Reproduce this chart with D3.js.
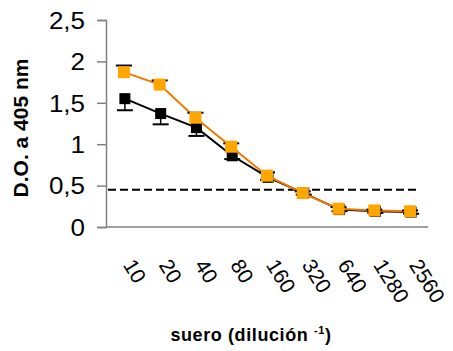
<!DOCTYPE html>
<html>
<head>
<meta charset="utf-8">
<script src="https://cdn.jsdelivr.net/npm/d3@7"></script>
<style>
  body { margin: 0; background: #fff; }
  svg { display: block; font-family: Arial, "Liberation Sans", sans-serif; }
</style>
</head>
<body>
<svg id="chart"></svg>
<script>
const width = 453;
const height = 351;

const diluciones = ["10", "20", "40", "80", "160", "320", "640", "1280", "2560"];
const serieNegra = [1.55, 1.37, 1.20, 0.86, 0.60, 0.41, 0.21, 0.19, 0.18];
const errNegra = [0.14, 0.13, 0.10, 0.04, 0.03, 0.02, 0.02, 0.02, 0.02];
const serieNaranja = [1.87, 1.72, 1.32, 0.97, 0.62, 0.41, 0.22, 0.20, 0.19];
const errNaranja = [0.08, 0.05, 0.06, 0.04, 0.04, 0.02, 0.02, 0.01, 0.01];
const corte = 0.45;
const yTicks = [0, 0.5, 1, 1.5, 2, 2.5];

const svg = d3.select("#chart")
    .attr("width", width)
    .attr("height", height);

const x = d3.scalePoint()
    .domain(diluciones)
    .range([106, 428])
    .padding(0.5);

const y = d3.scaleLinear()
    .domain([0, 2.5])
    .range([227, 20]);

// ejes
const yAxis = svg.append("g")
    .attr("transform", "translate(106,0)")
    .call(d3.axisLeft(y).tickValues(yTicks).tickSize(9)
        .tickFormat(d => String(d).replace(".", ",")));
yAxis.select(".domain").attr("stroke", "#808080").attr("stroke-width", 1.5);
yAxis.selectAll(".tick line").attr("stroke", "#808080").attr("stroke-width", 1.5);
// el original tiene los numeros un poco ensanchados
yAxis.selectAll(".tick text")
    .attr("fill", "#000")
    .attr("x", -21 / 1.13)
    .attr("dy", "0.36em")
    .attr("transform", "scale(1.13,1)")
    .style("font-size", "23px");

svg.append("line")
    .attr("x1", 106).attr("x2", 428)
    .attr("y1", y(0)).attr("y2", y(0))
    .attr("stroke", "#808080")
    .attr("stroke-width", 1.5);

svg.selectAll(".xlabel")
    .data(diluciones)
    .enter()
    .append("text")
    .attr("class", "xlabel")
    .attr("transform", d => `translate(${x(d) - 1.5},${265}) rotate(58)`)
    .style("font-size", "21px")
    .text(d => d);

// linea de corte
svg.append("line")
    .attr("x1", 108).attr("x2", 417)
    .attr("y1", y(corte)).attr("y2", y(corte))
    .attr("stroke", "#000")
    .attr("stroke-width", 2)
    .attr("stroke-dasharray", "8,4");

function dibujarSerie(valores, errores, color, relleno, lado, size, dx) {
    const g = svg.append("g");
    const line = d3.line()
        .x((d, i) => x(diluciones[i]) + dx)
        .y(d => y(d));
    g.append("path")
        .datum(valores)
        .attr("fill", "none")
        .attr("stroke", color)
        .attr("stroke-width", 2)
        .attr("d", line);
    valores.forEach((v, i) => {
        const cx = x(diluciones[i]) + dx;
        const ye = y(v + lado * errores[i]);
        g.append("line")
            .attr("x1", cx).attr("x2", cx)
            .attr("y1", y(v)).attr("y2", ye)
            .attr("stroke", "#000").attr("stroke-width", 1.5);
        g.append("line")
            .attr("x1", cx - 8).attr("x2", cx + 8)
            .attr("y1", ye).attr("y2", ye)
            .attr("stroke", "#000").attr("stroke-width", 2);
    });
    g.selectAll("rect")
        .data(valores)
        .enter()
        .append("rect")
        .attr("x", (d, i) => x(diluciones[i]) + dx - size / 2)
        .attr("y", d => y(d) - size / 2)
        .attr("width", size)
        .attr("height", size)
        .attr("fill", relleno);
}

dibujarSerie(serieNegra, errNegra, "#000", "#000", -1, 11, 1);
dibujarSerie(serieNaranja, errNaranja, "#f07800", "#ffa500", 1, 12, 0);

// titulos
svg.append("text")
    .attr("transform", `translate(28,128) rotate(-90)`)
    .attr("text-anchor", "middle")
    .style("font-size", "21px")
    .style("font-weight", "bold")
    .text("D.O. a 405 nm");

const tx = svg.append("text")
    .attr("x", 251)
    .attr("y", 341)
    .attr("text-anchor", "middle")
    .style("font-size", "18px")
    .style("font-weight", "bold")
    .style("letter-spacing", "0.6px");
tx.append("tspan").text("suero (dilución ");
tx.append("tspan").attr("dy", -7).style("font-size", "11px").text("-1");
tx.append("tspan").attr("dy", 7).text(")");
</script>
</body>
</html>
